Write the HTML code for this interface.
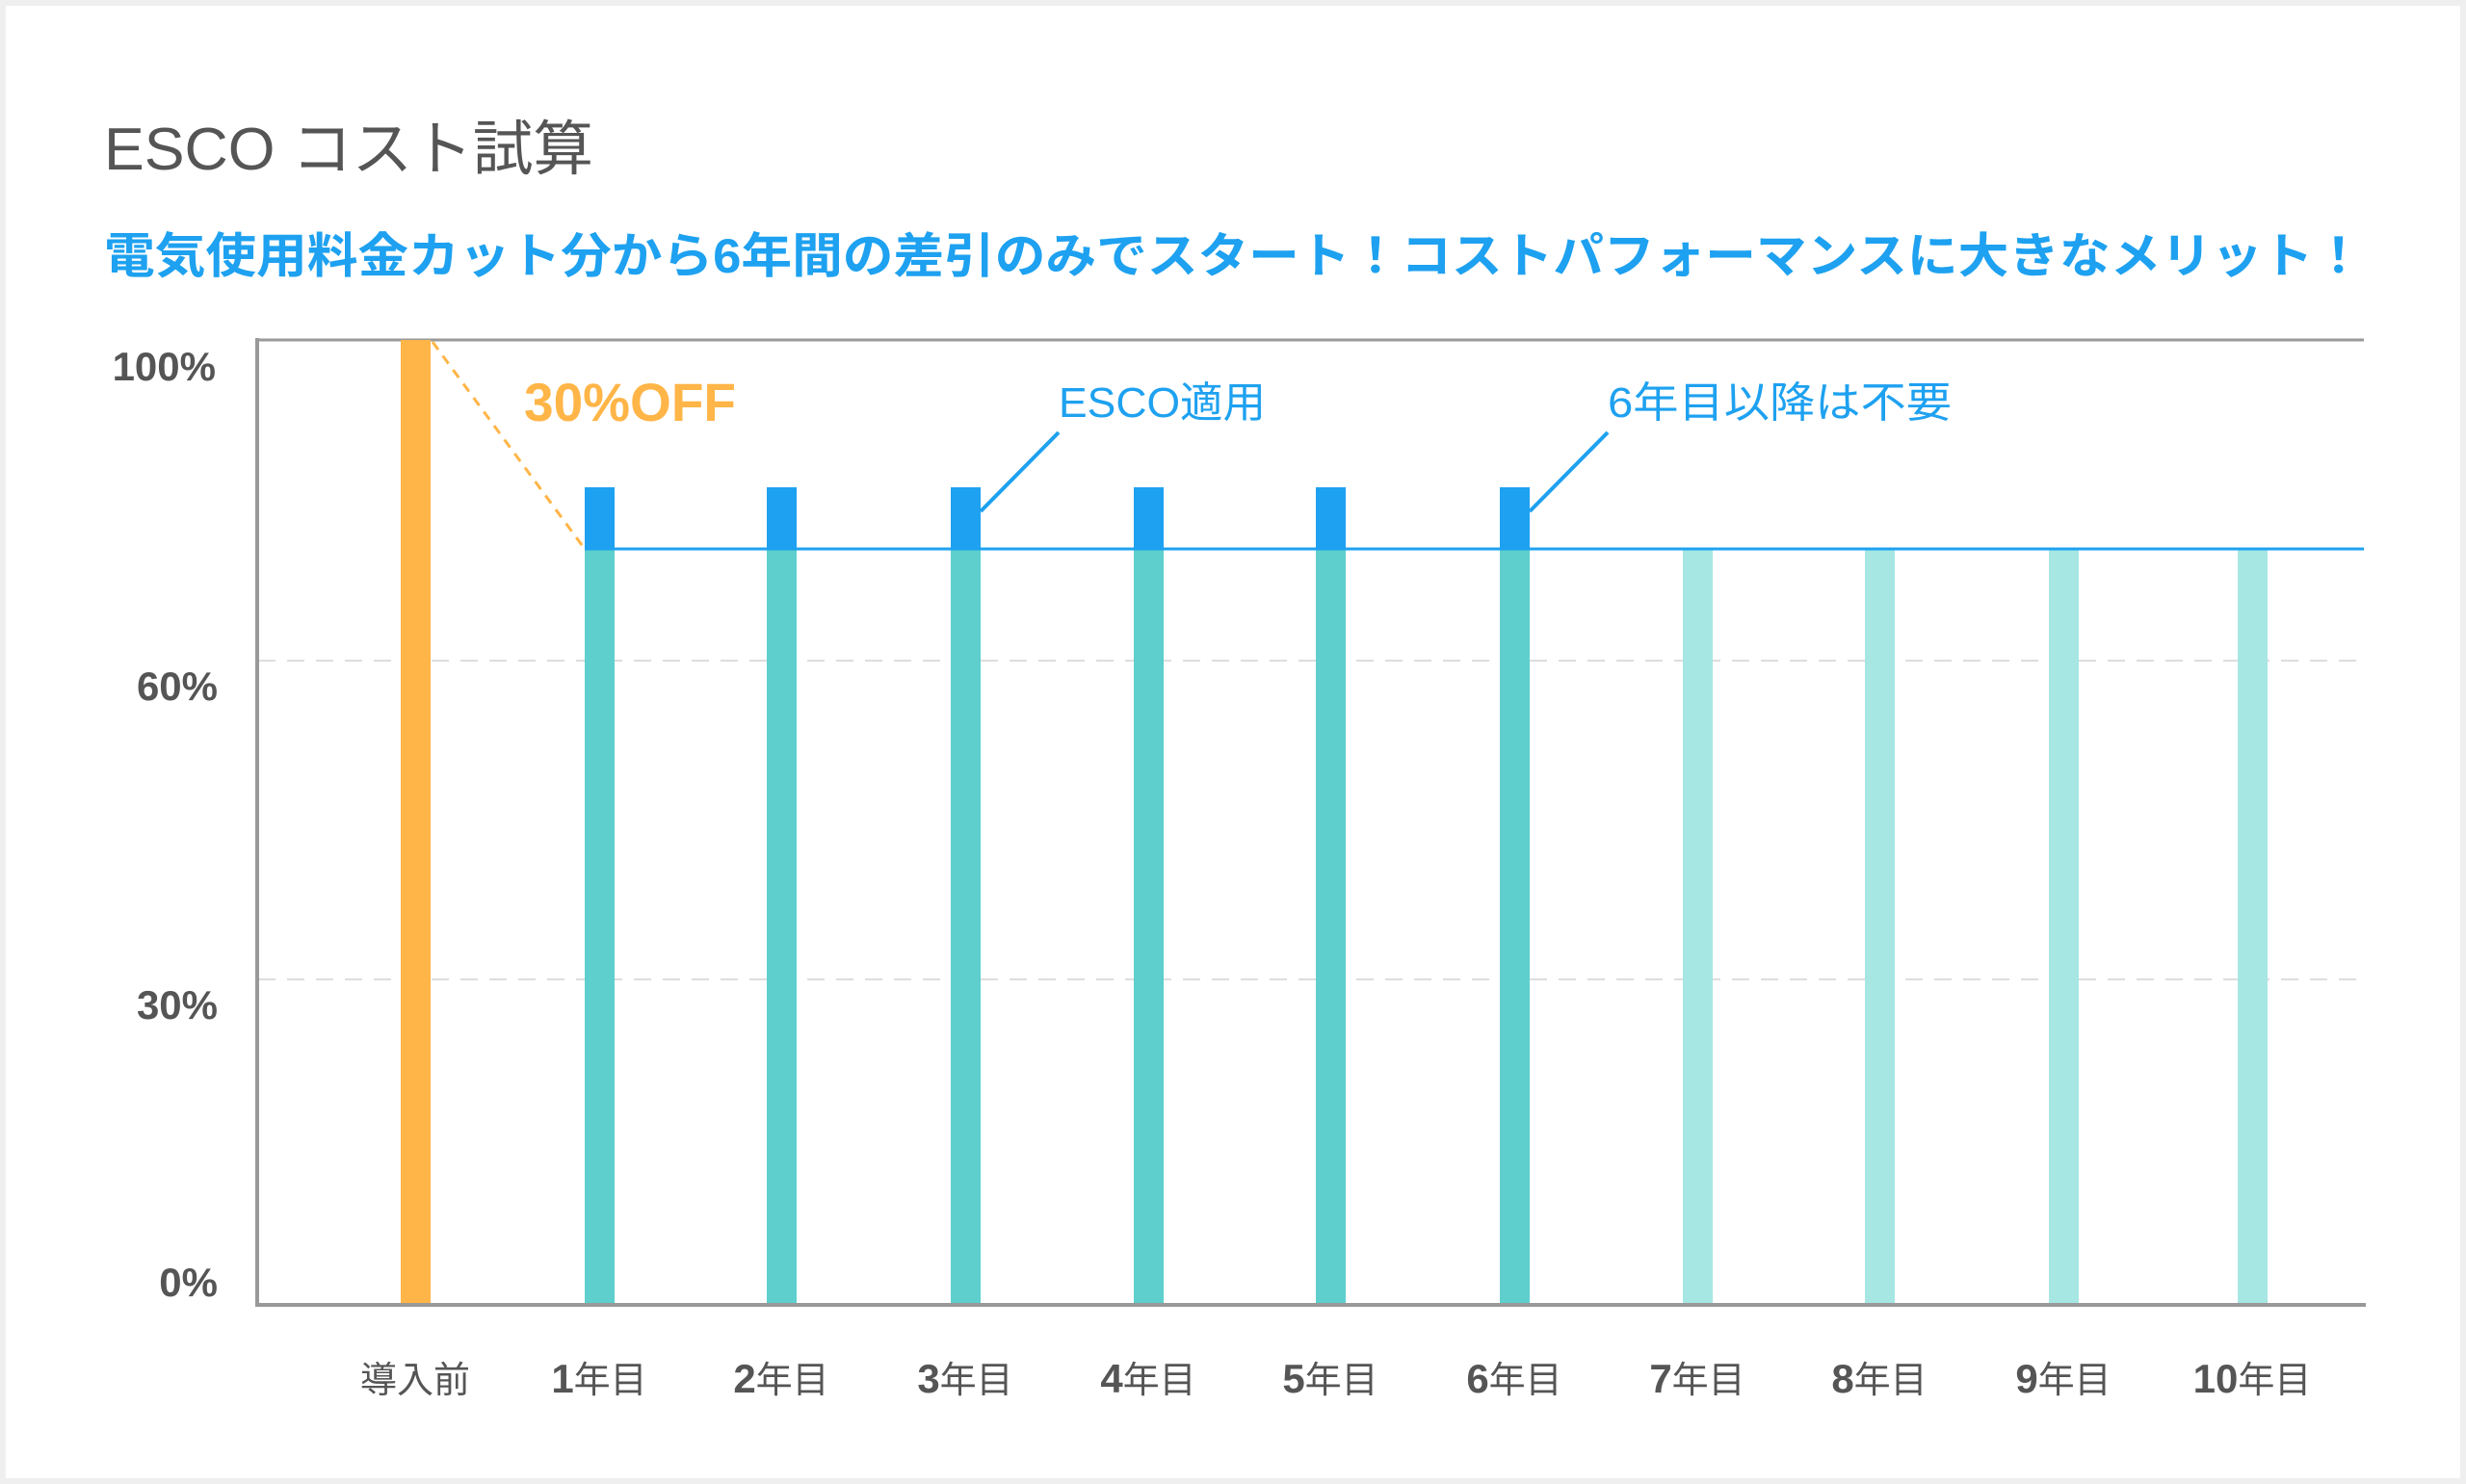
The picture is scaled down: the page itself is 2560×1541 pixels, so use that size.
<!DOCTYPE html>
<html><head><meta charset="utf-8"><style>
html,body{margin:0;padding:0;background:#fff}
svg{display:block}
text{font-family:"Liberation Sans","Noto Sans CJK JP",sans-serif}
</style></head><body>
<svg width="2560" height="1541" viewBox="0 0 2560 1541" xmlns="http://www.w3.org/2000/svg">
<rect x="0" y="0" width="2560" height="1541" fill="#efefef"/>
<rect x="6" y="6" width="2548" height="1529" fill="#fff"/>
<text x="108" y="176" font-size="62" fill="#555" textLength="508" lengthAdjust="spacingAndGlyphs">ESCO コスト試算</text>
<text x="108" y="283" font-size="50" fill="#1ea1f0" font-weight="bold" textLength="2346" lengthAdjust="spacingAndGlyphs">電気使用料金カット分から6年間の差引のみでスタート！コストパフォーマンスに大きなメリット！</text>
<!-- grid -->
<line x1="266" y1="353" x2="2454" y2="353" stroke="#9a9a9a" stroke-width="3"/>
<line x1="268" y1="686" x2="2454" y2="686" stroke="#ddd" stroke-width="2" stroke-dasharray="18,12"/>
<line x1="268" y1="1017" x2="2454" y2="1017" stroke="#ddd" stroke-width="2" stroke-dasharray="18,12"/>
<!-- bars -->
<rect x="416" y="353" width="31" height="1002" fill="#ffb547"/>
<g fill="#5ecfcd">
<rect x="607" y="570" width="31" height="785"/><rect x="796" y="570" width="31" height="785"/>
<rect x="987" y="570" width="31" height="785"/><rect x="1177" y="570" width="31" height="785"/>
<rect x="1366" y="570" width="31" height="785"/><rect x="1557" y="570" width="31" height="785"/>
</g>
<g fill="#1ea1f0">
<rect x="607" y="506" width="31" height="64"/><rect x="796" y="506" width="31" height="64"/>
<rect x="987" y="506" width="31" height="64"/><rect x="1177" y="506" width="31" height="64"/>
<rect x="1366" y="506" width="31" height="64"/><rect x="1557" y="506" width="31" height="64"/>
</g>
<g fill="#a6e7e4">
<rect x="1747" y="570" width="31" height="785"/><rect x="1936" y="570" width="31" height="785"/>
<rect x="2127" y="570" width="31" height="785"/><rect x="2323" y="570" width="31" height="785"/>
</g>
<line x1="607" y1="570" x2="2454" y2="570" stroke="#1ea1f0" stroke-width="3"/>
<line x1="449" y1="355" x2="607" y2="570" stroke="#ffb547" stroke-width="3" stroke-dasharray="10,8"/>
<line x1="1099" y1="449" x2="1018" y2="531" stroke="#1ea1f0" stroke-width="4"/>
<line x1="1669" y1="449" x2="1588" y2="531" stroke="#1ea1f0" stroke-width="4"/>
<!-- axes -->
<line x1="267" y1="351" x2="267" y2="1357" stroke="#999" stroke-width="4"/>
<line x1="265" y1="1355" x2="2456" y2="1355" stroke="#999" stroke-width="4"/>
<!-- annotations -->
<text x="544" y="437" font-size="56" font-weight="bold" fill="#ffb547" textLength="220" lengthAdjust="spacingAndGlyphs">30%OFF</text>
<text x="1099" y="433" font-size="44" fill="#1ea1f0" textLength="215" lengthAdjust="spacingAndGlyphs">ESCO適用</text>
<text x="1669" y="433" font-size="44" fill="#1ea1f0" textLength="357" lengthAdjust="spacingAndGlyphs">6年目以降は不要</text>
<!-- y labels -->
<g font-size="42" font-weight="bold" fill="#555" text-anchor="end">
<text x="224" y="395">100%</text><text x="226" y="727">60%</text>
<text x="226" y="1058">30%</text><text x="226" y="1346">0%</text>
</g>
<!-- x labels -->
<g font-size="38" fill="#555" text-anchor="middle">
<text x="431" y="1446">導入前</text>
<text x="622" y="1446"><tspan font-weight="bold" font-size="42">1</tspan>年目</text>
<text x="811" y="1446"><tspan font-weight="bold" font-size="42">2</tspan>年目</text>
<text x="1002" y="1446"><tspan font-weight="bold" font-size="42">3</tspan>年目</text>
<text x="1192" y="1446"><tspan font-weight="bold" font-size="42">4</tspan>年目</text>
<text x="1381" y="1446"><tspan font-weight="bold" font-size="42">5</tspan>年目</text>
<text x="1572" y="1446"><tspan font-weight="bold" font-size="42">6</tspan>年目</text>
<text x="1762" y="1446"><tspan font-weight="bold" font-size="42">7</tspan>年目</text>
<text x="1951" y="1446"><tspan font-weight="bold" font-size="42">8</tspan>年目</text>
<text x="2142" y="1446"><tspan font-weight="bold" font-size="42">9</tspan>年目</text>
<text x="2338" y="1446"><tspan font-weight="bold" font-size="42">10</tspan>年目</text>
</g>
</svg>
</body></html>
